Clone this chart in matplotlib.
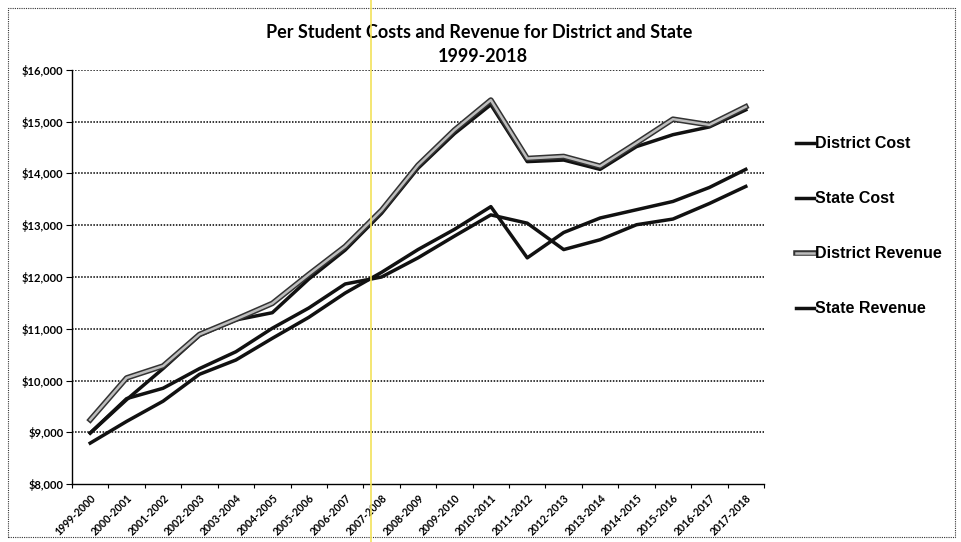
import matplotlib
matplotlib.use("Agg")
import matplotlib.pyplot as plt
import matplotlib.patheffects as pe
from matplotlib.lines import Line2D
from matplotlib.patches import Rectangle
import numpy as np

years = ["1999-2000", "2000-2001", "2001-2002", "2002-2003", "2003-2004",
         "2004-2005", "2005-2006", "2006-2007", "2007-2008", "2008-2009",
         "2009-2010", "2010-2011", "2011-2012", "2012-2013", "2013-2014",
         "2014-2015", "2015-2016", "2016-2017", "2017-2018"]

district_cost = [8985, 9630, 10230, 10870, 11170, 11310, 11960, 12520, 13230, 14100,
                 14770, 15330, 14230, 14260, 14080, 14520, 14750, 14900, 15230]
state_cost = [8985, 9650, 9850, 10230, 10556, 11010, 11400, 11865, 12000, 12370,
              12790, 13200, 13040, 12530, 12720, 13010, 13120, 13420, 13750]
district_revenue = [9240, 10050, 10280, 10890, 11183, 11490, 12050, 12590, 13290, 14160,
                    14840, 15420, 14290, 14330, 14140, 14590, 15050, 14940, 15290]
state_revenue = [8790, 9210, 9600, 10120, 10396, 10815, 11220, 11690, 12090, 12530,
                 12920, 13360, 12370, 12860, 13140, 13300, 13460, 13730, 14080]

yticks = list(range(8000, 16001, 1000))

fig = plt.figure(figsize=(9.61, 5.42), dpi=100)
ax = fig.add_axes([72 / 961, 1 - 484 / 542, (764 - 72) / 961, (484 - 70) / 542])

x = np.arange(len(years))
dot = (0, (1, 1))

# grid first so the lines sit on top
for v in yticks[1:]:
    ax.axhline(v, color="black", lw=1.1, linestyle=dot, zorder=1)

ax.plot(x, state_revenue, color="#111111", lw=2.5, zorder=3, solid_joinstyle="round")
ax.plot(x, state_cost, color="#111111", lw=2.5, zorder=3, solid_joinstyle="round")
ax.plot(x, district_cost, color="#111111", lw=2.5, zorder=4, solid_joinstyle="round")
dr_fx = [pe.Stroke(linewidth=4.0, foreground="#333333"), pe.Normal()]
ax.plot(x, district_revenue, color="#bdbdbd", lw=1.8, zorder=5,
        solid_joinstyle="round", path_effects=dr_fx)

ax.set_xlim(-0.5, len(years) - 0.5)
ax.set_ylim(8000, 16000)
ax.set_yticks(yticks)
ax.set_yticklabels(["${:,}".format(v) for v in yticks], fontsize=8,
                   fontweight="bold", family=["Lato", "DejaVu Sans"])
ax.set_xticks(x)
ax.set_xticklabels(years, rotation=45, ha="right", rotation_mode="anchor",
                   fontsize=7.6, fontweight="bold",
                   family=["Liberation Sans Narrow", "Lato", "DejaVu Sans"])
ax.set_xticks(np.arange(-0.5, len(years)), minor=True)
ax.tick_params(axis="x", which="major", length=0, pad=6)
ax.tick_params(axis="x", which="minor", length=3, width=0.8)
ax.tick_params(axis="y", length=4, width=0.8, pad=2)

for s in ["top", "right"]:
    ax.spines[s].set_visible(False)
for s in ["left", "bottom"]:
    ax.spines[s].set_linestyle(dot)
    ax.spines[s].set_linewidth(1.0)
ax.patch.set_alpha(0)

fig.text(479 / 961, 1 - 33 / 542, "Per Student Costs and Revenue for District and State",
         ha="center", va="center", fontsize=13, fontweight="bold",
         family=["Lato", "DejaVu Sans"])
fig.text(483 / 961, 1 - 57 / 542, "1999-2018", ha="center", va="center",
         fontsize=13, fontweight="bold", family=["Lato", "DejaVu Sans"])

handles = [
    Line2D([], [], color="#111111", lw=2.5),
    Line2D([], [], color="#111111", lw=2.5),
    Line2D([], [], color="#bdbdbd", lw=1.8, path_effects=dr_fx),
    Line2D([], [], color="#111111", lw=2.5),
]
labels = ["District Cost", "State Cost", "District Revenue", "State Revenue"]
fig.legend(handles, labels, loc="upper left", bbox_to_anchor=(782 / 961, 1 - 122 / 542),
           frameon=False, handlelength=1.1, handletextpad=0.05, labelspacing=2.5,
           prop={"family": ["Liberation Sans", "DejaVu Sans"], "weight": "bold", "size": 11.5})

# dotted frame round the chart and the yellow scan line
fig.add_artist(Rectangle((8 / 961, 5 / 542), 947 / 961, 529 / 542, fill=False,
                         linestyle=dot, lw=0.8, edgecolor="#333333",
                         transform=fig.transFigure))
fig.add_artist(Line2D([371 / 961, 371 / 961], [0, 1], color="#f2e25a", lw=1.2,
                      transform=fig.transFigure, zorder=10))

fig.savefig("out.png", dpi=100)
